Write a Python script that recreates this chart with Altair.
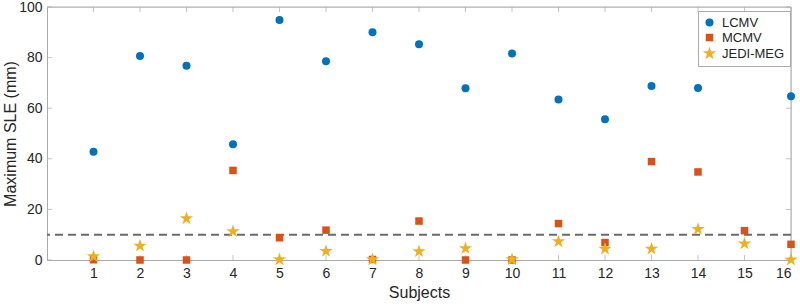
import altair as alt
import pandas as pd

# Per-subject maximum spatial localization error (mm) for each beamformer
subjects = list(range(1, 17))
lcmv = [42.8, 80.6, 76.8, 45.8, 94.9, 78.6, 90.0, 85.3, 67.9, 81.6, 63.4, 55.6, 68.8, 68.0, None, 64.7]
mcmv = [0.1, 0.0, 0.0, 35.4, 8.8, 11.8, 0.2, 15.4, 0.0, 0.0, 14.4, 6.9, 38.9, 34.8, 11.6, 6.2]
jedi = [1.4, 5.6, 16.4, 11.3, 0.2, 3.5, 0.2, 3.4, 4.6, 0.2, 7.3, 4.4, 4.4, 12.2, 6.5, 0.1]

series_names = ["LCMV", "MCMV", "JEDI-MEG"]
series_colors = ["#0072BD", "#D95319", "#EDB120"]


def star_path(r_out, r_in):
    # five-pointed star, first point straight up
    import math
    pts = []
    for k in range(10):
        r = r_out if k % 2 == 0 else r_in
        a = math.radians(-90 + 36 * k)
        pts.append(f"{r * math.cos(a):.4f},{r * math.sin(a):.4f}")
    return "M" + "L".join(pts) + "Z"


STAR = star_path(2.0, 2.0 * 0.382)
series_shapes = ["circle", "square", STAR]
series_sizes = [64, 49, 150]

x_ticks = subjects
y_ticks = [0, 20, 40, 60, 80, 100]
x_domain = [0, 16]
y_domain = [0, 100]
threshold = 10

axis_gray = "#ababab"
text_color = "#262626"
font = "Liberation Sans"

rows = []
for name, vals in zip(series_names, [lcmv, mcmv, jedi]):
    for s, v in zip(subjects, vals):
        if v is not None:
            rows.append({"subject": s, "sle": v, "method": name})
df = pd.DataFrame(rows)

xs = alt.Scale(domain=x_domain, nice=False, zero=False)
ys = alt.Scale(domain=y_domain, nice=False)

x_axis = alt.Axis(values=x_ticks, ticks=False, grid=False, domainColor=axis_gray,
                  labelFontSize=14, labelColor=text_color, labelPadding=6,
                  title="Subjects", titleFontSize=16, titleFontWeight="normal",
                  titleColor=text_color, titlePadding=4, labelFont=font, titleFont=font)
y_axis = alt.Axis(values=y_ticks, ticks=False, grid=False, domainColor=axis_gray,
                  labelFontSize=14, labelColor=text_color, labelPadding=5,
                  title="Maximum SLE (mm)", titleFontSize=16, titleFontWeight="normal",
                  titleColor=text_color, titlePadding=0, labelFont=font, titleFont=font)


def X(field):
    return alt.X(field, scale=xs, axis=x_axis, title="Subjects")


def Y(field):
    return alt.Y(field, scale=ys, axis=y_axis, title="Maximum SLE (mm)")


points = alt.Chart(df).mark_point(filled=True, opacity=1, strokeWidth=0).encode(
    x=X("subject:Q"),
    y=Y("sle:Q"),
    color=alt.Color("method:N", scale=alt.Scale(domain=series_names, range=series_colors),
                    legend=alt.Legend(title=None, orient="none", legendX=651, legendY=4,
                                      strokeColor=axis_gray, fillColor="white", padding=5,
                                      labelFontSize=13, labelColor=text_color, labelFont=font,
                                      rowPadding=1, labelOffset=6)),
    shape=alt.Shape("method:N", scale=alt.Scale(domain=series_names, range=series_shapes),
                    legend=alt.Legend(title=None)),
    size=alt.Size("method:N", scale=alt.Scale(domain=series_names, range=series_sizes),
                  legend=alt.Legend(title=None)),
)

# Dashed threshold line
thresh = alt.Chart(pd.DataFrame({"t": [threshold]})).mark_rule(
    strokeDash=[8, 5], strokeWidth=2, color="#6b6b6b"
).encode(y=Y("t:Q"))

# Top and right edges of the box
top_edge = alt.Chart(pd.DataFrame({"v": [y_domain[1]]})).mark_rule(color=axis_gray, strokeWidth=1).encode(
    y=Y("v:Q"))
right_edge = alt.Chart(pd.DataFrame({"v": [x_domain[1]]})).mark_rule(color=axis_gray, strokeWidth=1).encode(
    x=X("v:Q"))

# Inward tick marks on all four sides
xt = pd.DataFrame({"subject": x_ticks, "lo": y_domain[0], "hi": y_domain[1]})
yt = pd.DataFrame({"val": y_ticks, "lo": x_domain[0], "hi": x_domain[1]})
tick_len = 5


def xtick(edge, offset):
    return alt.Chart(xt).mark_tick(orient="vertical", size=tick_len, thickness=1,
                                   yOffset=offset, color=axis_gray).encode(
        x=X("subject:Q"), y=Y(f"{edge}:Q"))


def ytick(edge, offset):
    return alt.Chart(yt).mark_tick(orient="horizontal", size=tick_len, thickness=1,
                                   xOffset=offset, color=axis_gray).encode(
        y=Y("val:Q"), x=X(f"{edge}:Q"))


ticks = [xtick("lo", -tick_len / 2), xtick("hi", tick_len / 2),
         ytick("lo", tick_len / 2), ytick("hi", -tick_len / 2)]

chart = alt.layer(
    top_edge, right_edge, *ticks, thresh, points
).properties(
    width=744, height=253,
    padding={"left": 47, "top": 7, "right": 9, "bottom": 44},
    autosize=alt.AutoSizeParams(type="none"),
    background="white",
).configure_view(stroke=None).configure(font=font)

chart.save("out.html", embed_options={"renderer": "svg", "actions": False})
